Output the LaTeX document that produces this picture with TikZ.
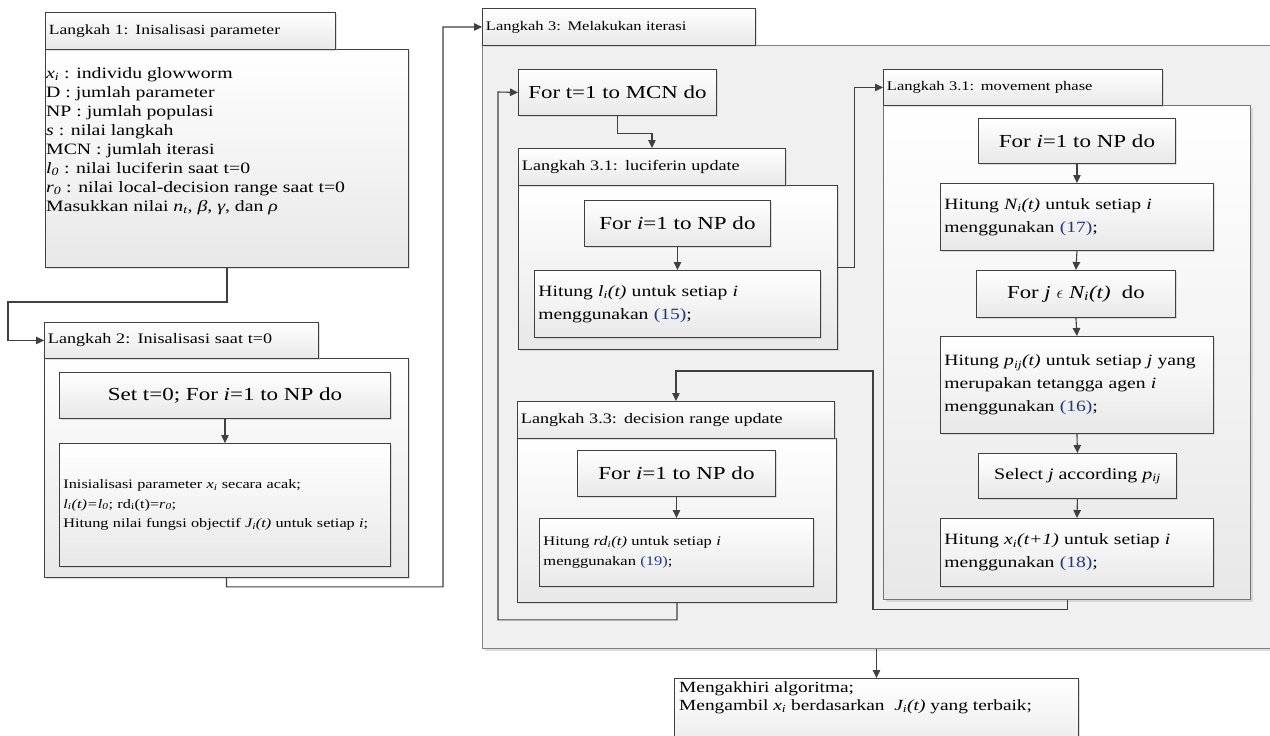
\documentclass[tikz,border=0pt]{standalone}
\usepackage{fontspec}
\setmainfont{Liberation Serif}[FakeStretch=1.25]
\usetikzlibrary{arrows.meta,shadows}
\definecolor{dk}{HTML}{404040}
\definecolor{eqb}{RGB}{31,56,128}
\newcommand\mkbox[7]{\pgfmathsetmacro\bw{#5-#3}\pgfmathsetmacro\bh{#6-#4}\node[#2,minimum width=\bw pt,minimum height=\bh pt,anchor=north west] (#1) at (#3,#4) {#7};}
\newcommand\eqr[1]{\textcolor{eqb}{(#1)}}
\newcommand\vi[1]{\textit{#1}}
\newcommand\mysub[1]{\textsubscript{#1}}
\tikzset{
 basebox/.style={draw=dk, line width=0.9pt, inner sep=0pt,
   drop shadow={shadow xshift=2pt,shadow yshift=-2pt,fill=black!25,opacity=0.5}},
 grad/.style={top color=white, bottom color=black!9},
 hdr/.style={basebox, grad, align=left, text width=\bw pt-7pt, inner xsep=3.5pt},
 ibox/.style={basebox, grad, align=center},
 lbox/.style={basebox, grad, align=left, text width=\bw pt-8pt, inner xsep=4pt},
 bodybox/.style={basebox, grad},
 bodytwo/.style={basebox, grad, draw=black!55, line width=1.3pt},
 gbody/.style={basebox, draw=black!50, line width=1.4pt, fill=black!6},
 conn/.style={draw=dk, line width=1.1pt, -{Triangle[length=8pt,width=7.5pt]}},
}
\begin{document}
\begin{tikzpicture}[x=1pt,y=-1pt]
\useasboundingbox (0,0) rectangle (1270,736);
\fill[white] (0,0) rectangle (1270,736);
% Langkah 3 container
\mkbox{B3}{gbody}{482}{45}{1295}{648}{}
\mkbox{H3}{hdr,font=\fontsize{13.2}{15}\selectfont}{482}{8}{755}{45}{Langkah 3: Melakukan iterasi}
% Langkah 1
\mkbox{B1}{bodybox}{45}{49}{408}{267}{}
\mkbox{H1}{hdr,font=\fontsize{14}{16}\selectfont}{45}{12}{335}{49}{Langkah 1: Inisalisasi parameter}
\node[anchor=north west, align=left, inner sep=0pt, font=\fontsize{15.8}{19}\selectfont] (T1) at (46,67)
 {\vi{x}\mysub{\vi{i}} : individu glowworm\\ D : jumlah parameter\\ NP : jumlah populasi\\ \vi{s} : nilai langkah\\ MCN : jumlah iterasi\\ \vi{l\mysub{0}} : nilai luciferin saat t=0\\ \vi{r\mysub{0}} : nilai local-decision range saat t=0\\ Masukkan nilai \vi{n\mysub{t}}, \vi{β}, \vi{γ}, dan \vi{ρ}};
% Langkah 2
\mkbox{B2}{bodybox}{44}{358}{408}{577}{}
\mkbox{H2}{hdr,font=\fontsize{14.5}{17}\selectfont}{44}{322}{318}{358}{Langkah 2: Inisalisasi saat t=0}
\mkbox{S1}{ibox,font=\fontsize{18.4}{22}\selectfont}{59}{372}{390}{418}{Set t=0; For \vi{i}=1 to NP do}
\mkbox{S2}{lbox,font=\fontsize{13}{19.5}\selectfont}{59}{443}{390}{566}{Inisialisasi parameter \vi{x}\mysub{\vi{i}} secara acak;\\ \vi{l\mysub{i}(t)=l\mysub{0}}; rd\mysub{i}(t)=\vi{r\mysub{0}};\\ Hitung nilai fungsi objectif \vi{J\mysub{i}(t)} untuk setiap \vi{i};}
% Langkah 3 inner
\mkbox{T}{ibox,font=\fontsize{18.3}{22}\selectfont}{518}{69}{716}{115}{For t=1 to MCN do}
\mkbox{B31}{bodybox}{518}{185}{837}{349}{}
\mkbox{H31}{hdr,font=\fontsize{14.5}{17}\selectfont}{518}{148}{785}{185}{Langkah 3.1: luciferin update}
\mkbox{F1}{ibox,font=\fontsize{18.4}{22}\selectfont}{584}{200}{770}{246}{For \vi{i}=1 to NP do}
\mkbox{L1}{lbox,font=\fontsize{15.7}{23}\selectfont}{534}{270}{820}{337}{Hitung \vi{l\mysub{i}(t)} untuk setiap \vi{i}\\ menggunakan \eqr{15};}
% movement phase
\mkbox{B32}{bodytwo}{883}{105}{1250}{599}{}
\mkbox{H32}{hdr,font=\fontsize{13.2}{15}\selectfont}{883}{69}{1162}{105}{Langkah 3.1: movement phase}
\mkbox{M1}{ibox,font=\fontsize{18.4}{22}\selectfont}{978}{118}{1175}{163}{For \vi{i}=1 to NP do}
\mkbox{M2}{lbox,font=\fontsize{15.7}{23}\selectfont}{940}{183}{1213}{250}{Hitung \vi{N\mysub{i}(t)} untuk setiap \vi{i}\\ menggunakan \eqr{17};}
\mkbox{M3}{ibox,font=\fontsize{18.2}{22}\selectfont}{976}{270}{1175}{317}{For \vi{j} $\epsilon$ \vi{N\mysub{i}(t)}\ \ do}
\mkbox{M4}{lbox,font=\fontsize{15.7}{23}\selectfont}{940}{336}{1213}{433}{Hitung \vi{p\mysub{ij}(t)} untuk setiap \vi{j} yang\\ merupakan tetangga agen \vi{i}\\ menggunakan \eqr{16};}
\mkbox{M5}{ibox,font=\fontsize{16}{19}\selectfont}{978}{453}{1176}{498}{Select \vi{j} according \vi{p\mysub{ij}}}
\mkbox{M6}{lbox,font=\fontsize{15.7}{23}\selectfont}{940}{518}{1213}{586}{Hitung \vi{x\mysub{i}(t+1)} untuk setiap \vi{i}\\ menggunakan \eqr{18};}
% decision range
\mkbox{B33}{bodybox}{517}{438}{836}{602}{}
\mkbox{H33}{hdr,font=\fontsize{14.5}{17}\selectfont}{517}{401}{834}{438}{Langkah 3.3: decision range update}
\mkbox{D1}{ibox,font=\fontsize{18.4}{22}\selectfont}{577}{450}{775}{496}{For \vi{i}=1 to NP do}
\mkbox{D2}{lbox,font=\fontsize{13.2}{20}\selectfont}{539}{518}{813}{586}{Hitung \vi{rd\mysub{i}(t)} untuk setiap \vi{i}\\ menggunakan \eqr{19};}
% end box
\mkbox{E}{bodybox}{674}{678}{1078}{760}{}
\node[anchor=north west, align=left, inner sep=0pt, font=\fontsize{15.5}{17.5}\selectfont] (ET) at (679,682)
 {Mengakhiri algoritma;\\ Mengambil \vi{x}\mysub{\vi{i}} berdasarkan\ \ \vi{J\mysub{i}(t)} yang terbaik;};
% connectors
\draw[conn] (B1.south) |- (8,302) |- (H2.west);
\draw[conn] (S1.south) -- (S2.north);
\draw[conn] (B2.south) -- ++(0,9) -| (443,27) -- (H3.west);
\draw[conn] (T.south) -- ++(0,18) -| (H31.north);
\draw[conn] (F1.south) -- (L1.north);
\draw[conn] (B31.east) -- ++(17,0) |- (H32.west);
\draw[conn] (M1.south) -- (M2.north);
\draw[conn] (M2.south) -- (M3.north);
\draw[conn] (M3.south) -- (M4.north);
\draw[conn] (M4.south) -- (M5.north);
\draw[conn] (M5.south) -- (M6.north);
\draw[conn] (B32.south) -- ++(0,9) -| (873,371) -| (H33.north);
\draw[conn] (D1.south) -- (D2.north);
\draw[conn] (B33.south) -- ++(0,17) -| (498,92) -- (T.west);
\draw[conn] (E.north |- B3.south) -- (E.north);
\end{tikzpicture}
\end{document}
